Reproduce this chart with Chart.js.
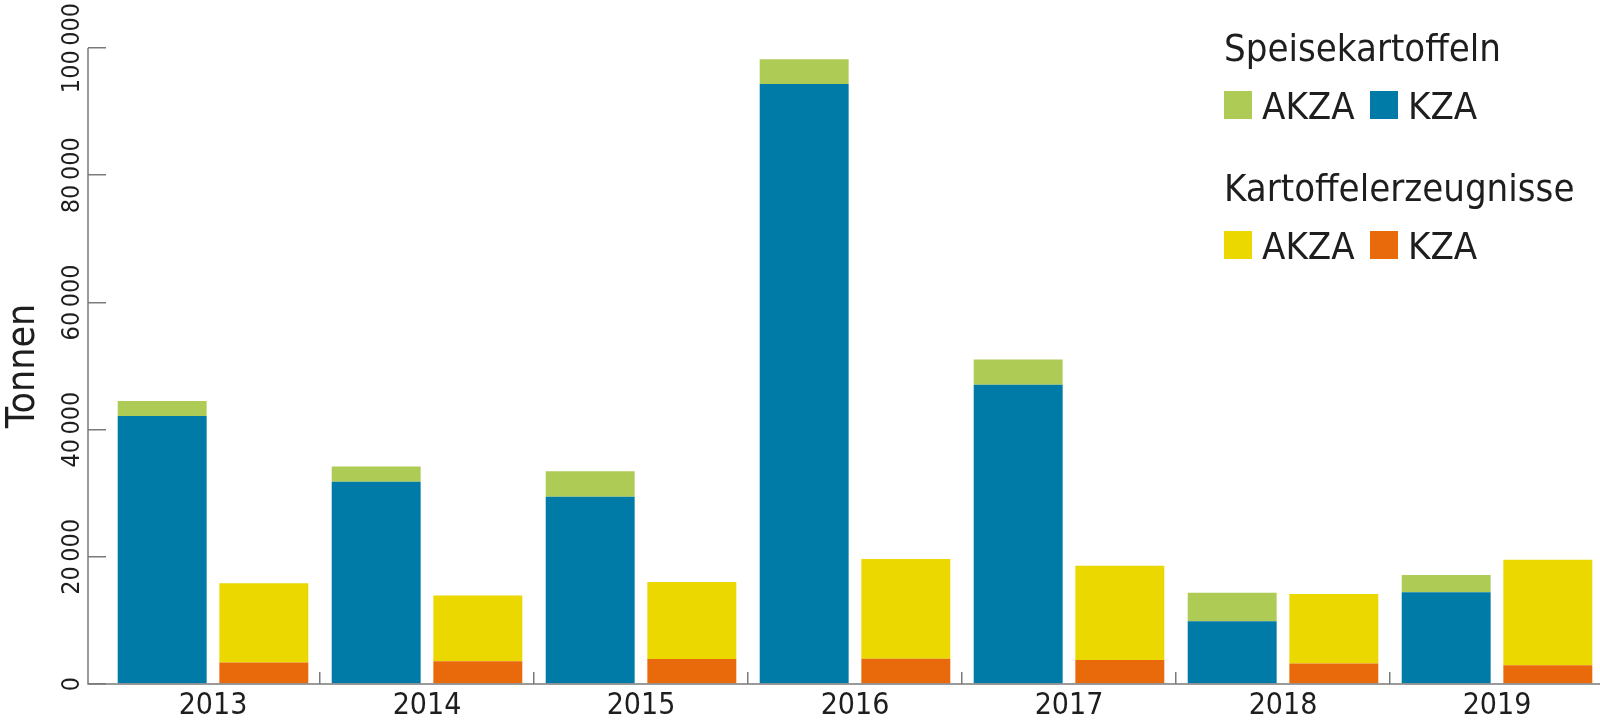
<!DOCTYPE html>
<html>
<head>
<meta charset="utf-8">
<script src="https://cdn.jsdelivr.net/npm/chart.js@4.4.1/dist/chart.umd.min.js"></script>
<style>
html, body { margin: 0; padding: 0; background: #fff; overflow: hidden; }
#wrap { position: relative; width: 1600px; height: 722px; overflow: hidden; }
#c { position: absolute; left: 0; top: 0; }
#legend { position: absolute; left: 1224px; top: 0; color: #1e1e1e;
	font-family: "DejaVu Sans Condensed", "Liberation Sans Narrow", "DejaVu Sans", sans-serif;
	font-size: 38px; line-height: 38px; white-space: nowrap; }
#legend .grp { position: absolute; left: 0; }
#legend .head { height: 58px; }
#legend .item { display: inline-block; }
#legend .item:first-child { width: 146px; }
#legend .sw { display: inline-block; width: 28px; height: 28px; margin-right: 10px; vertical-align: baseline; }
</style>
</head>
<body>
<div id="wrap">
	<canvas id="c" width="1604" height="722"></canvas>
	<div id="legend"></div>
</div>
<script>
'use strict';
var FONT = '"DejaVu Sans Condensed", "Liberation Sans Narrow", "DejaVu Sans", sans-serif';

// Data (Tonnen)
var years = ['2013', '2014', '2015', '2016', '2017', '2018', '2019'];
var speiseKZA = [42150, 31800, 29450, 94350, 47050, 9850, 14430];
var speiseAKZA = [2350, 2380, 4000, 3870, 3970, 4500, 2700];
var erzKZA = [3400, 3560, 3920, 3960, 3760, 3240, 2930];
var erzAKZA = [12460, 10360, 12120, 15680, 14850, 10900, 16620];
var yMax = 100000, yStep = 20000;

var groupNames = ['Speisekartoffeln', 'Kartoffelerzeugnisse'];
var green = '#aecb56',
	blue = '#007aa7',
	yellow = '#ead800',
	orange = '#e96a0a',
	axisColor = '#7a7a7a',
	textColor = '#1e1e1e';

var TICK = 18; // y tick length, ticks run from the axis line to the plot area
var Y_LABEL_X = 72; // centre of the rotated y labels

function fmt(v) {
	return String(v).replace(/\B(?=(\d{3})+(?!\d))/g, '\u2009');
}

// width of the widest y label, as Chart.js will measure it
var yFontSize = 25;
var mctx = document.createElement('canvas').getContext('2d');
mctx.font = 'normal ' + yFontSize + 'px ' + FONT;
var widest = mctx.measureText(fmt(yMax)).width;

// Axis lines: the y line sits left of the plot area, at the outer end of the ticks
var axisLines = {
	id: 'axisLines',
	afterDraw: function (chart) {
		var ctx = chart.ctx,
			a = chart.chartArea,
			y = chart.scales.y,
			x0 = a.left - TICK;
		ctx.save();
		ctx.strokeStyle = axisColor;
		ctx.lineWidth = 1.5;
		ctx.beginPath();
		ctx.moveTo(x0, y.getPixelForValue(yMax));
		ctx.lineTo(x0, y.getPixelForValue(0));
		ctx.lineTo(a.right, y.getPixelForValue(0));
		ctx.stroke();
		ctx.restore();
	}
};

var chart = new Chart(document.getElementById('c'), {
	type: 'bar',
	data: {
		labels: years,
		datasets: [
			{ label: 'KZA', stack: groupNames[0], data: speiseKZA, backgroundColor: blue },
			{ label: 'AKZA', stack: groupNames[0], data: speiseAKZA, backgroundColor: green },
			{ label: 'KZA', stack: groupNames[1], data: erzKZA, backgroundColor: orange },
			{ label: 'AKZA', stack: groupNames[1], data: erzAKZA, backgroundColor: yellow }
		]
	},
	options: {
		responsive: false,
		animation: false,
		devicePixelRatio: 1,
		datasets: {
			bar: { categoryPercentage: 0.95, barPercentage: 0.875, borderWidth: 0 }
		},
		layout: { padding: { top: 48, left: 0, right: 0, bottom: 0 } },
		plugins: {
			legend: { display: false },
			tooltip: { enabled: false }
		},
		scales: {
			x: {
				stacked: true,
				border: { display: false },
				grid: {
					drawOnChartArea: false,
					tickLength: -12,
					lineWidth: 1.5,
					color: function (c) { return c.index === 0 ? 'rgba(0,0,0,0)' : axisColor; }
				},
				ticks: {
					color: textColor,
					font: { family: FONT, size: 30 },
					padding: 16,
					maxRotation: 0,
					autoSkip: false
				},
				afterFit: function (s) { s.height = 38; }
			},
			y: {
				stacked: true,
				min: 0,
				max: yMax,
				border: { display: false },
				grid: {
					drawOnChartArea: false,
					tickLength: TICK,
					lineWidth: 1.5,
					color: axisColor
				},
				ticks: {
					stepSize: yStep,
					color: textColor,
					font: { family: FONT, size: yFontSize },
					minRotation: 90,
					maxRotation: 90,
					crossAlign: 'center',
					padding: (106 - TICK - Y_LABEL_X) - widest / 2,
					callback: function (v) { return fmt(v); }
				},
				title: {
					display: true,
					text: 'Tonnen',
					color: textColor,
					font: { family: FONT, size: 39 },
					padding: 0
				},
				afterFit: function (s) { s.width = 106; }
			}
		}
	},
	plugins: [axisLines]
});

// Grouped legend built from the datasets: heading per stack, AKZA before KZA
(function () {
	var box = document.getElementById('legend');
	var tops = [29, 169];
	groupNames.forEach(function (g, gi) {
		var grp = document.createElement('div');
		grp.className = 'grp';
		grp.style.top = tops[gi] + 'px';
		var head = document.createElement('div');
		head.className = 'head';
		head.textContent = g;
		grp.appendChild(head);
		var row = document.createElement('div');
		chart.data.datasets.filter(function (d) { return d.stack === g; }).reverse().forEach(function (d) {
			var it = document.createElement('span');
			it.className = 'item';
			var sw = document.createElement('span');
			sw.className = 'sw';
			sw.style.background = d.backgroundColor;
			it.appendChild(sw);
			it.appendChild(document.createTextNode(d.label));
			row.appendChild(it);
		});
		grp.appendChild(row);
		box.appendChild(grp);
	});
})();
</script>
</body>
</html>
